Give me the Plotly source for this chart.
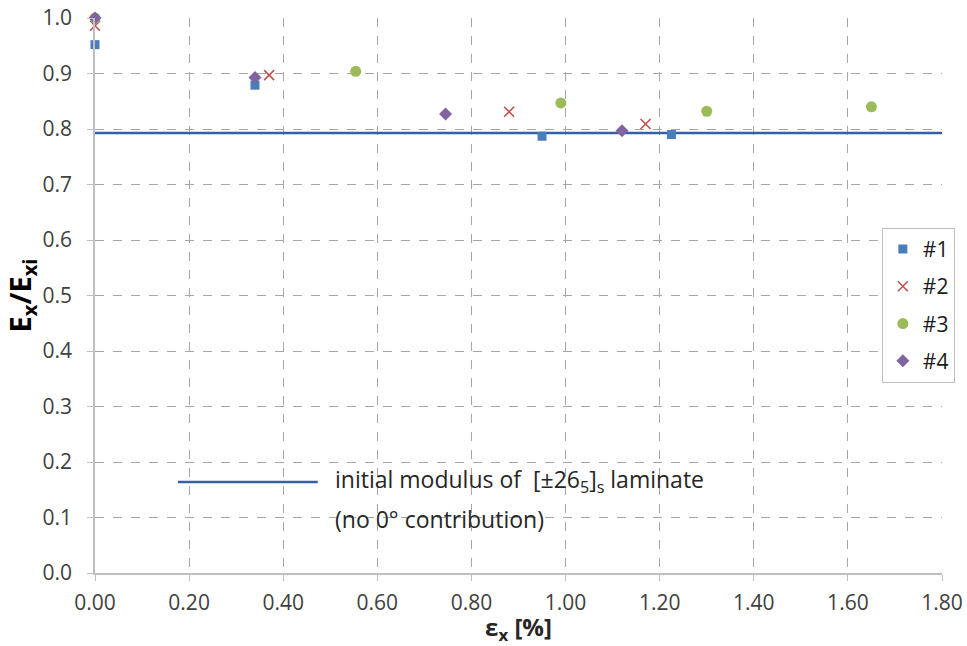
import plotly.graph_objects as go

# Normalised modulus E_x/E_xi versus applied strain for four specimens
s1_strain = [0.00, 0.34, 0.95, 1.225]
s1_ratio = [0.952, 0.879, 0.787, 0.790]

s2_strain = [0.00, 0.37, 0.88, 1.17]
s2_ratio = [0.986, 0.897, 0.831, 0.809]

s3_strain = [0.00, 0.554, 0.99, 1.30, 1.65]
s3_ratio = [1.000, 0.904, 0.847, 0.832, 0.840]

s4_strain = [0.00, 0.34, 0.745, 1.12]
s4_ratio = [1.000, 0.893, 0.827, 0.797]

# Initial modulus of the [±26_5]_s laminate, normalised
laminate_ratio = 0.793
strain_range = [0.0, 1.80]

x_ticks = [0.00, 0.20, 0.40, 0.60, 0.80, 1.00, 1.20, 1.40, 1.60, 1.80]
y_ticks = [0.0, 0.1, 0.2, 0.3, 0.4, 0.5, 0.6, 0.7, 0.8, 0.9, 1.0]

FONT = "Open Sans"
TICK_COLOR = "#404040"
TEXT_COLOR = "#262626"
LINE_COLOR = "#3560A6"

fig = go.Figure()

# reference level across the full strain range
fig.add_trace(go.Scatter(
    x=strain_range, y=[laminate_ratio, laminate_ratio],
    mode="lines", line=dict(color=LINE_COLOR, width=2.5),
    showlegend=False, hoverinfo="skip", cliponaxis=False,
))

series = [
    ("#1", s1_strain, s1_ratio, dict(symbol="square", size=9, color="#4A7EBB")),
    ("#2", s2_strain, s2_ratio, dict(symbol="x-thin-open", size=10,
                                     color="#C0504D", line=dict(color="#C0504D", width=1.6))),
    ("#3", s3_strain, s3_ratio, dict(symbol="circle", size=11, color="#9BBB59")),
    ("#4", s4_strain, s4_ratio, dict(symbol="diamond", size=10, color="#8064A2")),
]
for name, xs, ys, marker in series:
    fig.add_trace(go.Scatter(
        x=xs, y=ys, mode="markers", name=name, marker=marker,
        legendgroup=name, cliponaxis=False,
    ))

# white panel behind the explanatory text (hides the grid there)
fig.add_shape(type="rect", xref="paper", yref="paper",
              x0=0.269, x1=0.745, y0=0.050, y1=0.209,
              fillcolor="white", line=dict(width=0), layer="between")
# key for the horizontal reference line
fig.add_shape(type="line", xref="paper", yref="paper",
              x0=0.098, x1=0.263, y0=0.164, y1=0.164,
              line=dict(color=LINE_COLOR, width=2.5))
fig.add_annotation(
    xref="paper", yref="paper", x=0.281, y=0.166,
    xanchor="left", yanchor="middle", align="left", showarrow=False,
    text="initial modulus of  [±26<sub>5</sub>]<sub>s</sub> laminate",
    font=dict(family=FONT, size=23, color=TEXT_COLOR),
)
fig.add_annotation(
    xref="paper", yref="paper", x=0.281, y=0.097,
    xanchor="left", yanchor="middle", align="left", showarrow=False,
    text="(no 0° contribution)",
    font=dict(family=FONT, size=23, color=TEXT_COLOR),
)

fig.update_layout(
    width=967, height=646,
    margin=dict(l=95, r=23, t=18, b=73),
    paper_bgcolor="white", plot_bgcolor="white",
    font=dict(family=FONT, size=21, color=TICK_COLOR),
    showlegend=True,
    legend=dict(
        x=0.929, y=0.622, xanchor="left", yanchor="top",
        bgcolor="white", bordercolor="#BFBFBF", borderwidth=1,
        font=dict(family=FONT, size=21, color="#1A1A1A"),
        tracegroupgap=7, itemwidth=30,
    ),
    xaxis=dict(
        range=strain_range, tickvals=x_ticks, tickformat=".2f",
        showgrid=True, gridcolor="#A6A6A6", griddash="dash", gridwidth=1,
        zeroline=False, showline=True, linecolor="#BFBFBF", linewidth=1.5,
        ticks="outside", ticklen=6, tickcolor="#BFBFBF",
        ticklabelstandoff=4,
        tickfont=dict(family=FONT, size=21, color=TICK_COLOR),
        title=dict(text="<b>ε<sub>x</sub> [%]</b>",
                   font=dict(family=FONT, size=24, color=TEXT_COLOR), standoff=1),
        automargin=False,
    ),
    yaxis=dict(
        range=[0, 1.0], tickvals=y_ticks, tickformat=".1f",
        showgrid=True, gridcolor="#A6A6A6", griddash="dash", gridwidth=1,
        zeroline=False, showline=True, linecolor="#BFBFBF", linewidth=1.5,
        ticks="outside", ticklen=6, tickcolor="#BFBFBF",
        ticklabelstandoff=11,
        tickfont=dict(family=FONT, size=21, color=TICK_COLOR),
        title=dict(text="<b>E<sub>x</sub>/E<sub>xi</sub></b>",
                   font=dict(family=FONT, size=29, color="#000000"), standoff=3),
        automargin=False,
    ),
)

fig.write_html("out.html")
